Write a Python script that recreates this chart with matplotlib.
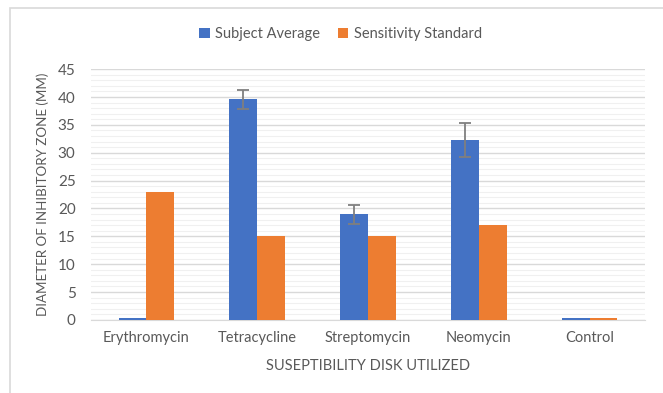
import matplotlib.pyplot as plt
import matplotlib.patches as mpatches
import numpy as np

plt.rcParams['font.family'] = ['Lato', 'DejaVu Sans']

disks = ["Erythromycin", "Tetracycline", "Streptomycin", "Neomycin", "Control"]
subject_avg = [0.3, 39.6, 19.0, 32.3, 0.3]
subject_err = [0, 1.7, 1.7, 3.0, 0]
sens_std = [23, 15, 15, 17, 0.3]

blue = '#4472C4'
orange = '#ED7D31'
grey = '#595959'

fig = plt.figure(figsize=(6.63, 3.93), dpi=100)
ax = fig.add_axes([0.137, 0.186, 0.836, 0.638])

# chart frame like Excel
fig.patches.append(mpatches.Rectangle((10/663, -0.1), 1.0, 1 - 8/393 + 0.1,
                                      transform=fig.transFigure, fill=False,
                                      edgecolor='#d9d9d9', lw=1.2))

x = np.arange(len(disks))
w = 0.25
ax.bar(x - w/2, subject_avg, w, color=blue, label='Subject Average', zorder=3)
ax.bar(x + w/2, sens_std, w, color=orange, label='Sensitivity Standard', zorder=3)
errx = [xi - w/2 for xi, e in zip(x, subject_err) if e > 0]
erry = [v for v, e in zip(subject_avg, subject_err) if e > 0]
erre = [e for e in subject_err if e > 0]
ax.errorbar(errx, erry, yerr=erre, fmt='none', ecolor='#7f7f7f', elinewidth=1.3,
            capsize=4, capthick=1.3, zorder=4)

ax.set_xlim(-0.5, len(disks) - 0.5)
ax.set_ylim(0, 45)
ax.set_yticks(np.arange(0, 46, 5))
ax.set_yticks(np.arange(0, 46, 1), minor=True)
ax.grid(axis='y', which='major', color='#d9d9d9', lw=1, zorder=0)
ax.grid(axis='y', which='minor', color='#f0f0f0', lw=0.8, zorder=0)
ax.set_xticks(x)
ax.set_xticklabels(disks)
ax.tick_params(axis='both', which='both', length=0, colors=grey, labelsize=10.5)
ax.tick_params(axis='y', labelsize=11, pad=11)
ax.tick_params(axis='x', pad=8)
for s in ['top', 'right', 'left']:
    ax.spines[s].set_visible(False)
ax.spines['bottom'].set_color('#d9d9d9')

ax.set_ylabel('DIAMETER OF INHIBITORY ZONE (MM)', color=grey, fontsize=9.6, labelpad=6)
ax.set_xlabel('SUSEPTIBILITY DISK UTILIZED', color=grey, fontsize=10.5, labelpad=10)

fig.legend(loc='center', bbox_to_anchor=(0.514, 0.913), ncol=2, frameon=False,
           fontsize=10.5, labelcolor=grey, handlelength=0.7, handleheight=0.7,
           handletextpad=0.4, columnspacing=1.2)

fig.savefig('out.png', dpi=100)
